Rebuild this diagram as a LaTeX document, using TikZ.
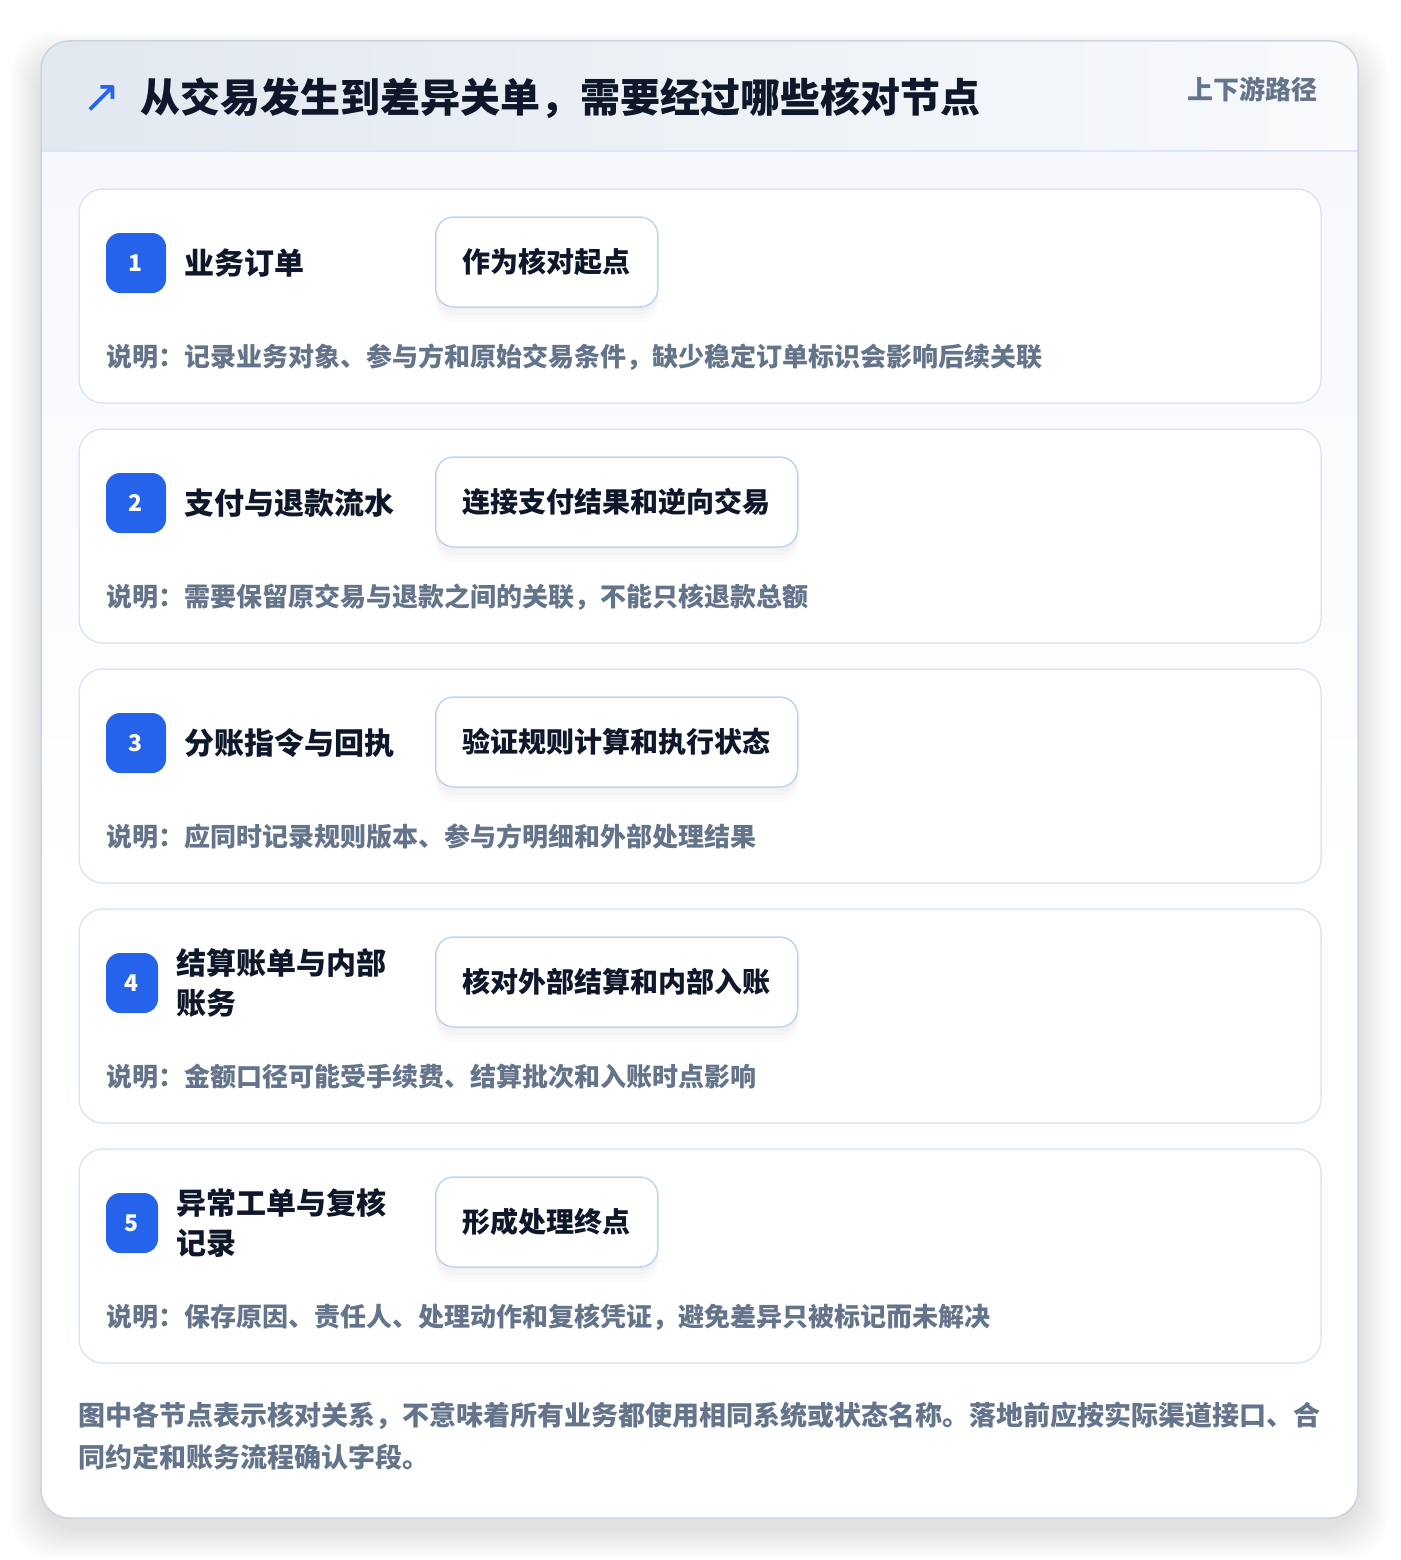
\documentclass[tikz,border=0pt]{standalone}
\usepackage{fontspec}
\setmainfont{Noto Sans CJK SC}
\newfontfamily\symbolfont{DejaVu Sans}
\usepackage{xcolor}
\usetikzlibrary{positioning}

\definecolor{ink}{HTML}{0F172A}
\definecolor{slate}{HTML}{64748B}
\definecolor{badgeblue}{HTML}{2563EB}
\definecolor{cardline}{HTML}{DBE7F8}
\definecolor{tagline}{HTML}{BFD5F3}
\definecolor{panelline}{HTML}{CBD5E1}
\definecolor{headleft}{HTML}{E2E8F0}
\definecolor{headright}{HTML}{F8FAFC}
\definecolor{bodytop}{HTML}{F6F8FC}

\begin{document}
\begin{tikzpicture}[x=1pt, y=-1pt,
    card/.style={draw=cardline, line width=1.5pt, fill=white, rounded corners=24pt,
      minimum width=1242pt, minimum height=214pt, inner sep=0pt},
    badge/.style={fill=badgeblue, rounded corners=14pt, minimum width=60pt,
      minimum height=60pt, inner sep=0pt, text=white, font=\fontsize{23}{25}\selectfont\bfseries},
    steptitle/.style={anchor=west, inner sep=0pt, align=left, text=ink,
      font=\fontsize{30}{40}\selectfont\bfseries},
    tagbox/.style={draw=tagline, line width=1.5pt, fill=white, rounded corners=18pt,
      minimum height=90pt, inner xsep=27pt, inner ysep=0pt, anchor=west, text=ink,
      font=\fontsize{28}{34}\selectfont\bfseries,
      preaction={fill=black, fill opacity=0.010, transform canvas={yshift=-16pt}},
      preaction={fill=black, fill opacity=0.012, transform canvas={yshift=-12pt}},
      preaction={fill=black, fill opacity=0.014, transform canvas={yshift=-8pt}},
      preaction={fill=black, fill opacity=0.016, transform canvas={yshift=-4pt}}},
    note/.style={anchor=west, inner sep=0pt, text=slate, font=\fontsize{26}{30}\selectfont\bfseries},
  ]
  \useasboundingbox (0,0) rectangle (1400,1560);
  \fill[white] (0,0) rectangle (1400,1560);

  % soft shadow under the panel
  \foreach \s in {2,4,...,30}
    \fill[black, opacity=0.006, rounded corners=40pt] ({41-\s},{61-\s}) rectangle ({1358+\s},{1528+\s});

  % panel, header band and body
  \fill[white, rounded corners=28pt] (41,41) rectangle (1358,1518);
  \begin{scope}
    \clip[rounded corners=28pt] (41,41) rectangle (1358,1518);
    \shade[left color=headleft, right color=headright] (41,41) rectangle (1358,151);
    \shade[top color=bodytop, bottom color=white] (41,151) rectangle (1358,900);
  \end{scope}
  \draw[cardline, line width=1.5pt] (41,151) -- (1358,151);
  \draw[panelline, line width=1.5pt, rounded corners=28pt] (41,41) rectangle (1358,1518);

  \node[anchor=center, inner sep=0pt, text=badgeblue, font=\fontsize{46}{48}\selectfont\symbolfont] (icon) at (102,99) {↗};
  \node[anchor=west, inner sep=0pt, text=ink, font=\fontsize{40}{48}\selectfont\bfseries] (title) at (140,98)
    {从交易发生到差异关单，需要经过哪些核对节点};
  \node[anchor=east, inner sep=0pt, text=slate, font=\fontsize{26}{30}\selectfont\bfseries] (path) at (1318,89)
    {上下游路径};

  % step 1
  \node[card] (card1) at (700,296) {};
  \node[badge] (num1) at (136,263) {1};
  \node[steptitle, right=18pt of num1] (name1) {业务订单};
  \node[tagbox] (tag1) at (435,262) {作为核对起点};
  \node[note] (note1) at (106,357) {说明：记录业务对象、参与方和原始交易条件，缺少稳定订单标识会影响后续关联};

  % step 2
  \node[card] (card2) at (700,536) {};
  \node[badge] (num2) at (136,503) {2};
  \node[steptitle, right=18pt of num2] (name2) {支付与退款流水};
  \node[tagbox] (tag2) at (435,502) {连接支付结果和逆向交易};
  \node[note] (note2) at (106,597) {说明：需要保留原交易与退款之间的关联，不能只核退款总额};

  % step 3
  \node[card] (card3) at (700,776) {};
  \node[badge] (num3) at (136,743) {3};
  \node[steptitle, right=18pt of num3] (name3) {分账指令与回执};
  \node[tagbox] (tag3) at (435,742) {验证规则计算和执行状态};
  \node[note] (note3) at (106,837) {说明：应同时记录规则版本、参与方明细和外部处理结果};

  % step 4
  \node[card] (card4) at (700,1016) {};
  \node[badge, minimum width=52pt] (num4) at (132,983) {4};
  \node[steptitle, right=18pt of num4] (name4) {结算账单与内部\\账务};
  \node[tagbox] (tag4) at (435,982) {核对外部结算和内部入账};
  \node[note] (note4) at (106,1077) {说明：金额口径可能受手续费、结算批次和入账时点影响};

  % step 5
  \node[card] (card5) at (700,1256) {};
  \node[badge, minimum width=52pt] (num5) at (132,1223) {5};
  \node[steptitle, right=18pt of num5] (name5) {异常工单与复核\\记录};
  \node[tagbox] (tag5) at (435,1222) {形成处理终点};
  \node[note] (note5) at (106,1317) {说明：保存原因、责任人、处理动作和复核凭证，避免差异只被标记而未解决};

  \node[anchor=north west, inner sep=0pt, align=left, text=slate,
    font=\fontsize{27}{42}\selectfont\bfseries] (footer) at (78,1402)
    {图中各节点表示核对关系，不意味着所有业务都使用相同系统或状态名称。落地前应按实际渠道接口、合\\同约定和账务流程确认字段。};
\end{tikzpicture}
\end{document}
